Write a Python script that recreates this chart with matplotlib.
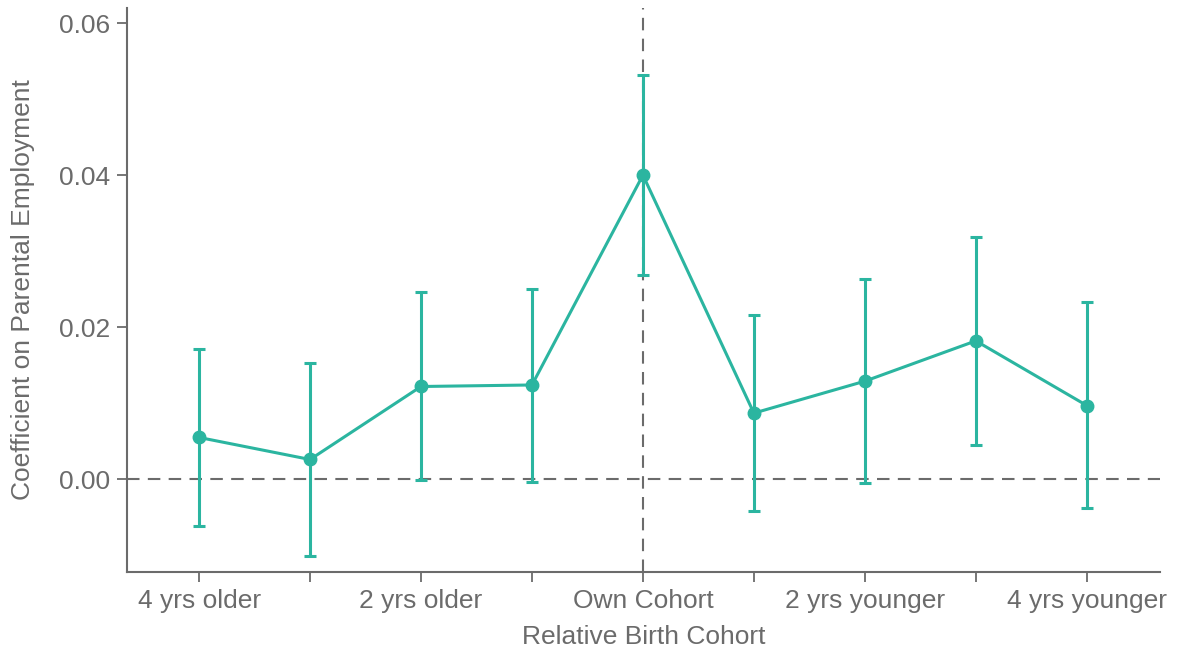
import numpy as np
import matplotlib
matplotlib.use("Agg")
import matplotlib.pyplot as plt

plt.rcParams['font.family'] = ['Liberation Sans', 'DejaVu Sans']

# relative birth cohort positions and estimates
cohort_pos = [0, 1, 2, 3, 4, 5, 6, 7, 8]
coef = [0.0055, 0.0026, 0.0122, 0.0124, 0.0400, 0.0087, 0.0129, 0.0182, 0.0097]
ci_low = [-0.0061, -0.0101, -0.0001, -0.0003, 0.0268, -0.0042, -0.0005, 0.0045, -0.0038]
ci_high = [0.0171, 0.0153, 0.0246, 0.0250, 0.0532, 0.0216, 0.0264, 0.0318, 0.0233]
tick_labels = ["4 yrs older", "", "2 yrs older", "", "Own Cohort", "", "2 yrs younger", "", "4 yrs younger"]

teal = "#2bb5a0"
grey = "#6b6b6b"

fig = plt.figure(figsize=(11.82, 6.53), dpi=100)
ax = fig.add_axes([0.1074, 0.124, 0.874, 0.864])

coef = np.array(coef)
yerr = [coef - np.array(ci_low), np.array(ci_high) - coef]

ax.axhline(0, color=grey, lw=1.5, ls=(0, (6, 4)), zorder=1)
ax.axvline(4, color=grey, lw=1.5, ls=(0, (6, 4)), zorder=1)

ax.errorbar(cohort_pos, coef, yerr=yerr, color=teal, lw=2.2, marker="o", ms=9,
            capsize=4, capthick=2.2, elinewidth=2.2, zorder=3)

ax.set_xlim(-0.65, 8.66)
ax.set_ylim(-0.0122, 0.062)
ax.set_xticks(cohort_pos)
ax.set_xticklabels(tick_labels)
ax.set_yticks([0.0, 0.02, 0.04, 0.06])
ax.set_yticklabels(["0.00", "0.02", "0.04", "0.06"])

for s in ["top", "right"]:
    ax.spines[s].set_visible(False)
for s in ["left", "bottom"]:
    ax.spines[s].set_color(grey)
    ax.spines[s].set_linewidth(1.5)

ax.tick_params(colors=grey, labelsize=19, length=7, width=1.3, pad=5)
ax.set_xlabel("Relative Birth Cohort", fontsize=19, color=grey, labelpad=9)
ax.set_ylabel("Coefficient on Parental Employment", fontsize=19, color=grey, labelpad=17)

fig.savefig("out.png", dpi=100)
